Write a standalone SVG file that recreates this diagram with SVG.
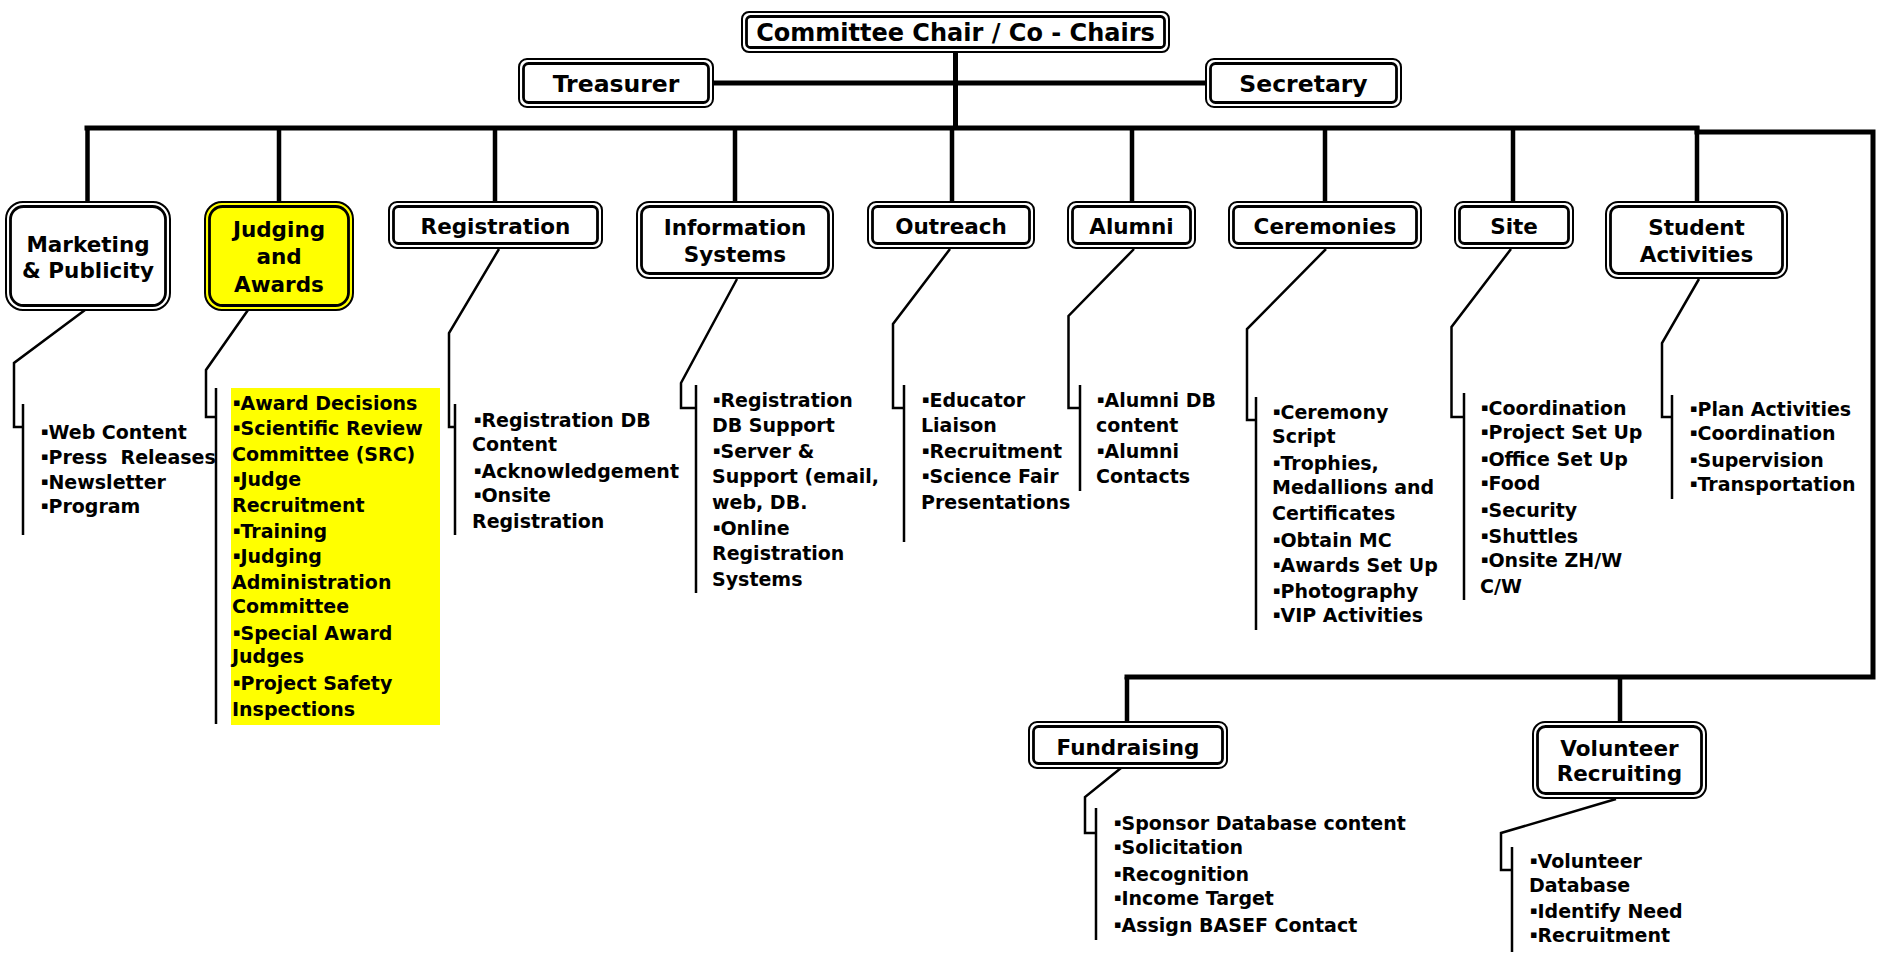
<svg xmlns="http://www.w3.org/2000/svg" width="1884" height="959" viewBox="0 0 1884 959">
<style>
text{font-family:"DejaVu Sans","Liberation Sans",sans-serif;font-weight:bold;fill:#000;white-space:pre}
.lbl{font-size:21.5px;text-anchor:middle}
.top{font-size:23.5px;text-anchor:middle}
.lst{font-size:19px}
.b{font-size:11px;baseline-shift:4px}
.o{fill:#fff;stroke:#000;stroke-width:2}
.i{fill:none;stroke:#000;stroke-width:2.8}
.y{fill:#ffff00}
.bus{fill:none;stroke:#000;stroke-width:5;stroke-linecap:square}
.drop{fill:none;stroke:#000;stroke-width:4.5}
.c{fill:none;stroke:#000;stroke-width:2.5}
</style>
<rect x="231" y="388" width="209" height="337" fill="#ffff00"/>
<g id="connectors">
<path class="bus" d="M955.5 52V128M713 83H1206M87 128H1697"/>
<path class="bus" d="M1697 132H1873V677H1127"/>
<path class="drop" d="M87.5 128V202M279 128V202M495 128V202M735 128V202M952 128V202M1132 128V202M1325 128V202M1513 128V202M1697 126V202M1127 677V722M1620 677V722"/>
<path class="c" d="M85 310L14 363V427H23M23 404V535"/>
<path class="c" d="M248 310L206 370V417H216M216 388V724"/>
<path class="c" d="M499 249L449 333V427H455M455 404V535"/>
<path class="c" d="M737 279L681 383V408H696M696 385V593"/>
<path class="c" d="M950 249L893 324V408H904M904 385V542"/>
<path class="c" d="M1134 249L1068.5 316V408H1080M1080 385V491"/>
<path class="c" d="M1326 249L1247 329V420H1256M1256 397V630"/>
<path class="c" d="M1511 249L1451.5 327V417H1464M1464 393V600"/>
<path class="c" d="M1699 279L1662 343V417H1672M1672 395V499"/>
<path class="c" d="M1121 768L1085 797V833H1096M1096 808V940"/>
<path class="c" d="M1616 799L1501 833V870H1512M1512 847V952"/>
</g>
<g id="committee"><rect class="o" x="742" y="12" width="427" height="40" rx="7"/><rect class="i" x="746.5" y="16.5" width="418" height="31" rx="4"/><text class="top" x="955.5" y="41" style="font-size:24px">Committee Chair / Co - Chairs</text></g>
<g id="treasurer"><rect class="o" x="519" y="59" width="194" height="48" rx="8"/><rect class="i" x="523.5" y="63.5" width="185" height="39" rx="5"/><text class="top" x="616" y="92">Treasurer</text></g>
<g id="secretary"><rect class="o" x="1206" y="59" width="195" height="48" rx="8"/><rect class="i" x="1210.5" y="63.5" width="186" height="39" rx="5"/><text class="top" x="1303.5" y="92">Secretary</text></g>
<g id="marketing"><rect class="o" x="6" y="202" width="164" height="108" rx="17"/><rect class="i" x="10.5" y="206.5" width="155" height="99" rx="13"/><text class="lbl" x="88" y="252">Marketing</text><text class="lbl" x="88" y="278">&amp; Publicity</text></g>
<g id="judging"><rect x="205" y="202" width="148" height="108" rx="17" fill="#ffff00" stroke="#000" stroke-width="2"/><rect class="i" x="209.5" y="206.5" width="139" height="99" rx="13"/><text class="lbl" x="279" y="237">Judging</text><text class="lbl" x="279" y="264">and</text><text class="lbl" x="279" y="292">Awards</text></g>
<g id="registration"><rect class="o" x="389" y="202" width="213" height="46" rx="8"/><rect class="i" x="393.5" y="206.5" width="204" height="37" rx="5"/><text class="lbl" x="495.5" y="234">Registration</text></g>
<g id="infosys"><rect class="o" x="637" y="202" width="196" height="76" rx="12"/><rect class="i" x="641.5" y="206.5" width="187" height="67" rx="8"/><text class="lbl" x="735" y="235">Information</text><text class="lbl" x="735" y="262">Systems</text></g>
<g id="outreach"><rect class="o" x="868" y="202" width="166" height="46" rx="8"/><rect class="i" x="872.5" y="206.5" width="157" height="37" rx="5"/><text class="lbl" x="951" y="234">Outreach</text></g>
<g id="alumni"><rect class="o" x="1068" y="202" width="127" height="46" rx="8"/><rect class="i" x="1072.5" y="206.5" width="118" height="37" rx="5"/><text class="lbl" x="1131.5" y="234">Alumni</text></g>
<g id="ceremonies"><rect class="o" x="1229" y="202" width="192" height="46" rx="8"/><rect class="i" x="1233.5" y="206.5" width="183" height="37" rx="5"/><text class="lbl" x="1325" y="234">Ceremonies</text></g>
<g id="site"><rect class="o" x="1455" y="202" width="118" height="46" rx="8"/><rect class="i" x="1459.5" y="206.5" width="109" height="37" rx="5"/><text class="lbl" x="1514" y="234">Site</text></g>
<g id="student"><rect class="o" x="1606" y="202" width="181" height="76" rx="12"/><rect class="i" x="1610.5" y="206.5" width="172" height="67" rx="8"/><text class="lbl" x="1696.5" y="235">Student</text><text class="lbl" x="1696.5" y="262">Activities</text></g>
<g id="fundraising"><rect class="o" x="1029" y="722" width="198" height="46" rx="8"/><rect class="i" x="1033.5" y="726.5" width="189" height="37" rx="5"/><text class="lbl" x="1128" y="755">Fundraising</text></g>
<g id="volunteer"><rect class="o" x="1533" y="722" width="173" height="76" rx="12"/><rect class="i" x="1537.5" y="726.5" width="164" height="67" rx="8"/><text class="lbl" x="1619.5" y="756">Volunteer</text><text class="lbl" x="1619.5" y="781">Recruiting</text></g>
<g id="marketing-list"><text class="lst"><tspan x="41" y="439"><tspan class="b">▪</tspan>Web Content</tspan><tspan x="41" y="464"><tspan class="b">▪</tspan>Press  Releases</tspan><tspan x="41" y="489"><tspan class="b">▪</tspan>Newsletter</tspan><tspan x="41" y="513"><tspan class="b">▪</tspan>Program</tspan></text></g>
<g id="judging-list"><text class="lst"><tspan x="233" y="410"><tspan class="b">▪</tspan>Award Decisions</tspan><tspan x="233" y="435"><tspan class="b">▪</tspan>Scientific Review</tspan><tspan x="232" y="461">Committee (SRC)</tspan><tspan x="233" y="486"><tspan class="b">▪</tspan>Judge</tspan><tspan x="232" y="512">Recruitment</tspan><tspan x="233" y="538"><tspan class="b">▪</tspan>Training</tspan><tspan x="233" y="563"><tspan class="b">▪</tspan>Judging</tspan><tspan x="232" y="589">Administration</tspan><tspan x="232" y="613">Committee</tspan><tspan x="233" y="640"><tspan class="b">▪</tspan>Special Award</tspan><tspan x="232" y="663">Judges</tspan><tspan x="233" y="690"><tspan class="b">▪</tspan>Project Safety</tspan><tspan x="232" y="716">Inspections</tspan></text></g>
<g id="registration-list"><text class="lst"><tspan x="474" y="427"><tspan class="b">▪</tspan>Registration DB</tspan><tspan x="472" y="451">Content</tspan><tspan x="474" y="478"><tspan class="b">▪</tspan>Acknowledgement</tspan><tspan x="474" y="502"><tspan class="b">▪</tspan>Onsite</tspan><tspan x="472" y="528">Registration</tspan></text></g>
<g id="infosys-list"><text class="lst"><tspan x="713" y="407"><tspan class="b">▪</tspan>Registration</tspan><tspan x="712" y="432">DB Support</tspan><tspan x="713" y="458"><tspan class="b">▪</tspan>Server &amp;</tspan><tspan x="712" y="483">Support (email,</tspan><tspan x="712" y="509">web, DB.</tspan><tspan x="713" y="535"><tspan class="b">▪</tspan>Online</tspan><tspan x="712" y="560">Registration</tspan><tspan x="712" y="586">Systems</tspan></text></g>
<g id="outreach-list"><text class="lst"><tspan x="922" y="407"><tspan class="b">▪</tspan>Educator</tspan><tspan x="921" y="432">Liaison</tspan><tspan x="922" y="458"><tspan class="b">▪</tspan>Recruitment</tspan><tspan x="922" y="483"><tspan class="b">▪</tspan>Science Fair</tspan><tspan x="921" y="509">Presentations</tspan></text></g>
<g id="alumni-list"><text class="lst"><tspan x="1097" y="407"><tspan class="b">▪</tspan>Alumni DB</tspan><tspan x="1096" y="432">content</tspan><tspan x="1097" y="458"><tspan class="b">▪</tspan>Alumni</tspan><tspan x="1096" y="483">Contacts</tspan></text></g>
<g id="ceremonies-list"><text class="lst"><tspan x="1273" y="419"><tspan class="b">▪</tspan>Ceremony</tspan><tspan x="1272" y="443">Script</tspan><tspan x="1273" y="470"><tspan class="b">▪</tspan>Trophies,</tspan><tspan x="1272" y="494">Medallions and</tspan><tspan x="1272" y="520">Certificates</tspan><tspan x="1273" y="547"><tspan class="b">▪</tspan>Obtain MC</tspan><tspan x="1273" y="572"><tspan class="b">▪</tspan>Awards Set Up</tspan><tspan x="1273" y="598"><tspan class="b">▪</tspan>Photography</tspan><tspan x="1273" y="622"><tspan class="b">▪</tspan>VIP Activities</tspan></text></g>
<g id="site-list"><text class="lst"><tspan x="1481" y="415"><tspan class="b">▪</tspan>Coordination</tspan><tspan x="1481" y="439"><tspan class="b">▪</tspan>Project Set Up</tspan><tspan x="1481" y="466"><tspan class="b">▪</tspan>Office Set Up</tspan><tspan x="1481" y="490"><tspan class="b">▪</tspan>Food</tspan><tspan x="1481" y="517"><tspan class="b">▪</tspan>Security</tspan><tspan x="1481" y="543"><tspan class="b">▪</tspan>Shuttles</tspan><tspan x="1481" y="567"><tspan class="b">▪</tspan>Onsite ZH/W</tspan><tspan x="1480" y="593">C/W</tspan></text></g>
<g id="student-list"><text class="lst"><tspan x="1690" y="416"><tspan class="b">▪</tspan>Plan Activities</tspan><tspan x="1690" y="440"><tspan class="b">▪</tspan>Coordination</tspan><tspan x="1690" y="467"><tspan class="b">▪</tspan>Supervision</tspan><tspan x="1690" y="491"><tspan class="b">▪</tspan>Transportation</tspan></text></g>
<g id="fundraising-list"><text class="lst"><tspan x="1114" y="830"><tspan class="b">▪</tspan>Sponsor Database content</tspan><tspan x="1114" y="854"><tspan class="b">▪</tspan>Solicitation</tspan><tspan x="1114" y="881"><tspan class="b">▪</tspan>Recognition</tspan><tspan x="1114" y="905"><tspan class="b">▪</tspan>Income Target</tspan><tspan x="1114" y="932"><tspan class="b">▪</tspan>Assign BASEF Contact</tspan></text></g>
<g id="volunteer-list"><text class="lst"><tspan x="1530" y="868"><tspan class="b">▪</tspan>Volunteer</tspan><tspan x="1529" y="892">Database</tspan><tspan x="1530" y="918"><tspan class="b">▪</tspan>Identify Need</tspan><tspan x="1530" y="942"><tspan class="b">▪</tspan>Recruitment</tspan></text></g>
</svg>
